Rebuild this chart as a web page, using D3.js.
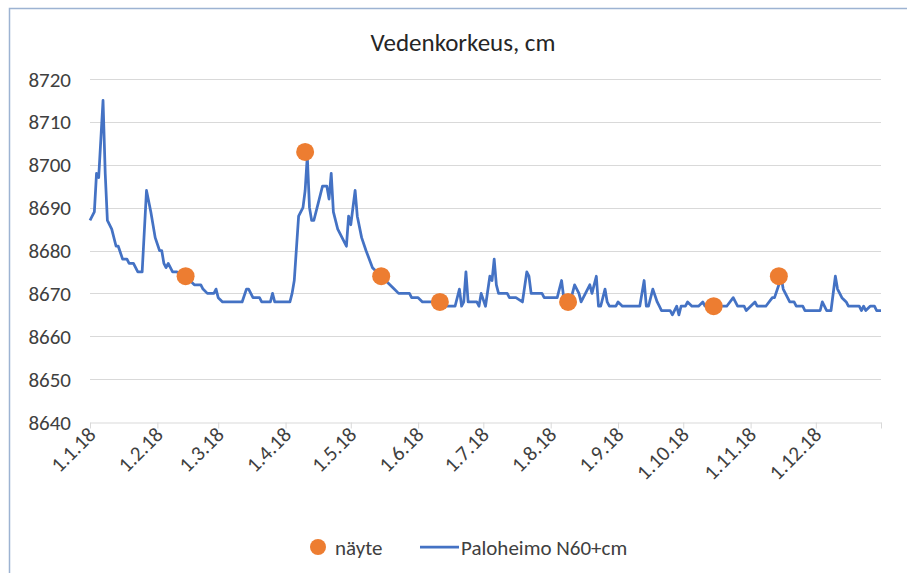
<!DOCTYPE html>
<html>
<head>
<meta charset="utf-8">
<script src="https://cdn.jsdelivr.net/npm/d3@7"></script>
<style>
  body { margin: 0; background: #fff; }
  svg { font-family: Carlito, Lato, "Open Sans", sans-serif; }
  .grid line { stroke: #d9d9d9; stroke-width: 1; }
  .tick-label { fill: #404040; font-size: 21px; }
</style>
</head>
<body>
<svg id="chart" width="907" height="573"></svg>
<script>
// day of year (0 = 1.1.2018) and water level
const lineDays = [0, 2, 3, 4, 6, 7, 8, 10, 12, 13, 15, 17, 18, 20, 22, 24, 26, 28, 30, 32,
    33, 34, 35, 36, 38, 40, 44, 48, 51, 52, 54, 57, 58, 59, 61, 70, 72, 73, 75, 78,
    79, 83, 84, 85, 92, 93, 94, 96, 98, 99, 100, 101, 102, 103, 105, 107, 109, 110, 111, 112,
    114, 115, 118, 119, 120, 122, 123, 125, 127, 130, 134, 138, 140, 142, 144, 147, 148, 151, 153, 162,
    164, 168, 170, 171, 172, 173, 174, 178, 179, 180, 182, 184, 185, 186, 187, 188, 192, 193, 196, 199,
    201, 202, 203, 208, 209, 215, 217, 218, 221, 223, 225, 226, 228, 230, 231, 233, 234, 235, 237, 238,
    239, 242, 243, 245, 253, 255, 256, 257, 259, 261, 262, 263, 267, 268, 270, 271, 272, 274, 275, 277,
    280, 282, 283, 287, 293, 296, 298, 301, 302, 304, 306, 307, 311, 314, 315, 317, 318, 319, 321, 322, 324,
    325, 328, 329, 336, 337, 339, 341, 343, 344, 346, 348, 349, 354, 355, 356, 357, 359, 361, 362, 364];
const lineLevels = [8687, 8689, 8698, 8697, 8715, 8698, 8687, 8685, 8681, 8681, 8678, 8678, 8677, 8677, 8675, 8675, 8694, 8689, 8683, 8680,
    8680, 8677, 8676, 8677, 8675, 8675, 8674, 8672, 8672, 8671, 8670, 8670, 8671, 8669, 8668, 8668, 8671, 8671, 8669, 8669,
    8668, 8668, 8670, 8668, 8668, 8670, 8673, 8688, 8690, 8694, 8702, 8690, 8687, 8687, 8691, 8695, 8695, 8692, 8698, 8689,
    8685, 8684, 8681, 8688, 8686, 8694, 8688, 8683, 8680, 8676, 8674, 8672, 8671, 8670, 8670, 8670, 8669, 8669, 8668, 8668,
    8667, 8667, 8671, 8667, 8668, 8675, 8668, 8668, 8667, 8670, 8667, 8674, 8673, 8678, 8672, 8670, 8670, 8669, 8669, 8668,
    8675, 8674, 8670, 8670, 8669, 8669, 8673, 8669, 8668, 8672, 8670, 8668, 8670, 8672, 8670, 8674, 8667, 8667, 8671, 8668,
    8667, 8667, 8668, 8667, 8667, 8673, 8667, 8667, 8671, 8668, 8667, 8666, 8666, 8665, 8667, 8665, 8667, 8667, 8668, 8667,
    8667, 8668, 8667, 8667, 8667, 8669, 8667, 8667, 8666, 8667, 8668, 8667, 8667, 8669, 8669, 8672, 8674, 8671, 8669, 8668, 8668,
    8667, 8667, 8666, 8666, 8668, 8666, 8666, 8674, 8671, 8669, 8668, 8667, 8667, 8666, 8667, 8666, 8667, 8667, 8666, 8666];

// samples (näyte)
const sampleDays = [44, 99, 134, 161, 220, 287, 317];
const sampleLevels = [8674, 8703, 8674, 8668, 8668, 8667, 8674];

const yTicks = [8640, 8650, 8660, 8670, 8680, 8690, 8700, 8710, 8720];
const titleText = 'Vedenkorkeus, cm';
const seriesNames = ['näyte', 'Paloheimo N60+cm'];

const start = new Date(2018, 0, 1);
const toDate = d => d3.timeDay.offset(start, d);

const margin = { top: 79, right: 26, bottom: 151, left: 90 };
const width = 907, height = 573;

const svg = d3.select('#chart');

// chart frame
svg.append('rect')
    .attr('x', 9.5).attr('y', 8.5)
    .attr('width', 920).attr('height', 600)
    .attr('fill', 'none')
    .attr('stroke', '#9db3d2')
    .attr('stroke-width', 1.5);

const xScale = d3.scaleTime()
    .domain([start, new Date(2018, 11, 31)])
    .range([margin.left, width - margin.right]);

const yScale = d3.scaleLinear()
    .domain([8640, 8720])
    .range([height - margin.bottom, margin.top]);

svg.append('text')
    .attr('x', 463).attr('y', 51)
    .attr('text-anchor', 'middle')
    .attr('fill', '#262626')
    .attr('font-size', '25px')
    .text(titleText);

// horizontal gridlines
svg.append('g').attr('class', 'grid')
    .selectAll('line')
    .data(yTicks.slice(1))
    .join('line')
    .attr('x1', margin.left).attr('x2', width - margin.right)
    .attr('y1', d => Math.round(yScale(d)) + 0.5)
    .attr('y2', d => Math.round(yScale(d)) + 0.5);

// y axis labels
svg.append('g')
    .selectAll('text')
    .data(yTicks)
    .join('text')
    .attr('class', 'tick-label')
    .attr('x', 71)
    .attr('y', d => yScale(d))
    .attr('dy', '0.36em')
    .attr('text-anchor', 'end')
    .text(d => d);

// x axis with month ticks
const monthTicks = d3.timeMonth.range(start, new Date(2019, 0, 1));
const xAxis = svg.append('g')
    .attr('transform', `translate(0, ${Math.round(yScale(8640)) + 0.5})`)
    .call(d3.axisBottom(xScale)
        .tickValues(monthTicks.concat([new Date(2018, 11, 31)]))
        .tickSize(6)
        .tickSizeOuter(0)
        .tickFormat(''));
xAxis.select('.domain').attr('stroke', '#d9d9d9');
xAxis.selectAll('.tick line').attr('stroke', '#d9d9d9');

const fmt = d3.timeFormat('%-d.%-m.%y');
svg.append('g')
    .selectAll('text')
    .data(monthTicks)
    .join('text')
    .attr('class', 'tick-label')
    .attr('text-anchor', 'end')
    .attr('transform', d => `translate(${xScale(d) + 7}, ${yScale(8640) + 14}) rotate(-45)`)
    .text(d => fmt(d));

// water level line
const data = lineDays.map((d, i) => ({ date: toDate(d), value: lineLevels[i] }));
const line = d3.line()
    .x(d => xScale(d.date))
    .y(d => yScale(d.value));

svg.append('path')
    .datum(data)
    .attr('d', line)
    .attr('fill', 'none')
    .attr('stroke', '#4472c4')
    .attr('stroke-width', 2.75)
    .attr('stroke-linejoin', 'round');

// sample points
svg.append('g')
    .selectAll('circle')
    .data(sampleDays.map((d, i) => ({ date: toDate(d), value: sampleLevels[i] })))
    .join('circle')
    .attr('cx', d => xScale(d.date))
    .attr('cy', d => yScale(d.value))
    .attr('r', 9)
    .attr('fill', '#ed7d31');

// legend
const legend = svg.append('g').attr('transform', 'translate(0, 547)');
legend.append('circle').attr('cx', 318).attr('cy', 0).attr('r', 8).attr('fill', '#ed7d31');
legend.append('text').attr('class', 'tick-label').attr('x', 335).attr('dy', '0.36em').text(seriesNames[0]);
legend.append('line').attr('x1', 420).attr('x2', 459).attr('y1', 0).attr('y2', 0)
    .attr('stroke', '#4472c4').attr('stroke-width', 2.75);
legend.append('text').attr('class', 'tick-label').attr('x', 461).attr('dy', '0.36em').text(seriesNames[1]);
</script>
</body>
</html>
